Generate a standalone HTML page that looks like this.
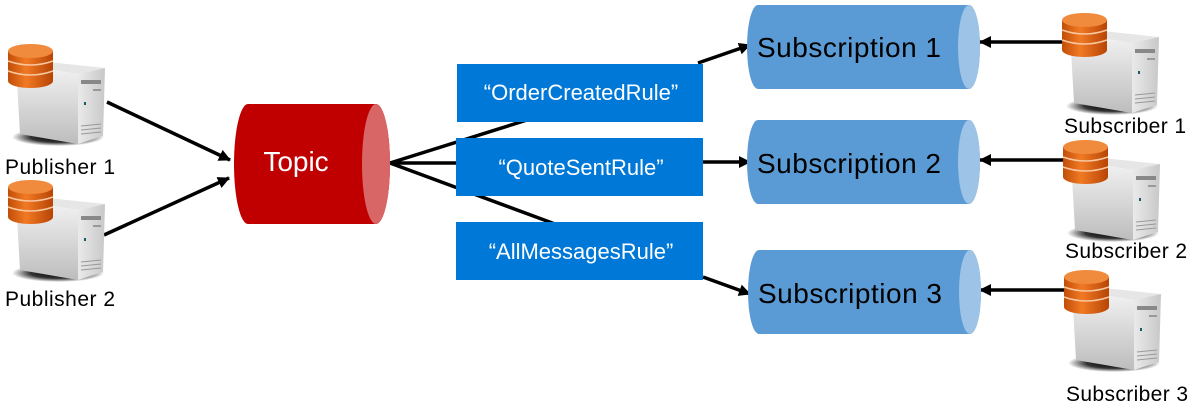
<!DOCTYPE html>
<html><head><meta charset="utf-8"><style>body{margin:0;background:#fff}svg{display:block}</style></head>
<body>
<svg width="1200" height="406" viewBox="0 0 1200 406" xmlns="http://www.w3.org/2000/svg" font-family="Liberation Sans, sans-serif">
<defs>
<linearGradient id="fr" x1="0" y1="0" x2="0" y2="1"><stop offset="0" stop-color="#f4f4f4"/><stop offset="0.5" stop-color="#d8d8d8"/><stop offset="1" stop-color="#bdbdbd"/></linearGradient>
<linearGradient id="sd" x1="0" y1="0" x2="1" y2="0"><stop offset="0" stop-color="#eaeaea"/><stop offset="1" stop-color="#c8c8c8"/></linearGradient>
<linearGradient id="db" x1="0" y1="0" x2="1" y2="0"><stop offset="0" stop-color="#c24d08"/><stop offset="0.4" stop-color="#f07a24"/><stop offset="1" stop-color="#b84405"/></linearGradient>
<radialGradient id="sh"><stop offset="0" stop-color="#000"/><stop offset="0.6" stop-color="#000" stop-opacity="0.8"/><stop offset="1" stop-color="#000" stop-opacity="0"/></radialGradient>
<marker id="ah" markerWidth="12" markerHeight="12" refX="11" refY="6" orient="auto" markerUnits="userSpaceOnUse"><path d="M0,0 L12,6 L0,12 z" fill="#000"/></marker>
<g id="srv">
<ellipse cx="50" cy="93" rx="46" ry="9" fill="url(#sh)"/>
<polygon points="8,20 70,30 70,100 12,90" fill="url(#fr)"/>
<polygon points="40,18 97,24 70,30 8,20" fill="#e6e6e6"/>
<polygon points="70,30 97,24 95,92 70,100" fill="url(#sd)"/>
<rect x="73" y="36" width="20" height="4" fill="#888"/>
<rect x="85" y="45" width="8" height="2" fill="#999"/>
<rect x="76" y="58" width="2" height="3" fill="#1a5a6a"/>
<path d="M73 82 L93 80 M73 86 L93 84 M73 90 L93 88" stroke="#999" stroke-width="1"/>
<rect x="0" y="7" width="45" height="30" fill="url(#db)"/>
<ellipse cx="22.5" cy="37" rx="22.5" ry="7" fill="url(#db)"/>
<path d="M0 17 Q22.5 25 45 17 M0 27 Q22.5 35 45 27" stroke="#f9c7a0" stroke-width="1.5" fill="none"/>
<ellipse cx="22.5" cy="7" rx="22.5" ry="7" fill="#f08a3c"/>
</g>
</defs>
<g stroke="#000" stroke-width="3.5" fill="none">
<line x1="107" y1="102" x2="230" y2="160" marker-end="url(#ah)"/>
<line x1="104" y1="235" x2="229" y2="178" marker-end="url(#ah)"/>
<line x1="390" y1="163" x2="527" y2="120"/>
<line x1="390" y1="163" x2="460" y2="163"/>
<line x1="390" y1="163" x2="555" y2="224"/>
<line x1="698" y1="63" x2="750" y2="45" marker-end="url(#ah)"/>
<line x1="703" y1="162" x2="750" y2="162" marker-end="url(#ah)"/>
<line x1="703" y1="277" x2="750" y2="294" marker-end="url(#ah)"/>
<line x1="1064" y1="42" x2="980" y2="42" marker-end="url(#ah)"/>
<line x1="1064" y1="160" x2="980" y2="160" marker-end="url(#ah)"/>
<line x1="1064" y1="290" x2="980" y2="290" marker-end="url(#ah)"/>
</g>
<path d="M248 104 L376 104 A14 60 0 0 1 376 224 L248 224 A14 60 0 0 1 248 104 z" fill="#c00000"/>
<ellipse cx="376" cy="164" rx="14" ry="60" fill="#d96666"/>
<text x="296" y="171" font-size="28" fill="#fff" text-anchor="middle">Topic</text>
<g fill="#0078d7"><rect x="457" y="64" width="246" height="58"/><rect x="456" y="138" width="247" height="58"/><rect x="456" y="222" width="247" height="58"/></g>
<g fill="#fff" font-size="22" text-anchor="middle"><text x="581" y="100">“OrderCreatedRule”</text><text x="581" y="175">“QuoteSentRule”</text><text x="581" y="259">“AllMessagesRule”</text></g>
<g>
<path d="M758 5 L969 5 A11 42 0 0 1 969 89 L758 89 A11 42 0 0 1 758 5 z" fill="#5b9bd5"/><ellipse cx="969" cy="47" rx="11" ry="42" fill="#9dc3e6"/>
<path d="M758 120 L969 120 A11 42 0 0 1 969 204 L758 204 A11 42 0 0 1 758 120 z" fill="#5b9bd5"/><ellipse cx="969" cy="162" rx="11" ry="42" fill="#9dc3e6"/>
<path d="M759 250 L970 250 A11 42 0 0 1 970 334 L759 334 A11 42 0 0 1 759 250 z" fill="#5b9bd5"/><ellipse cx="970" cy="292" rx="11" ry="42" fill="#9dc3e6"/>
</g>
<g font-size="28" fill="#000" textLength="184"><text x="757" y="57" textLength="184">Subscription 1</text><text x="757" y="173" textLength="184">Subscription 2</text><text x="758" y="303" textLength="184">Subscription 3</text></g>
<use href="#srv" x="8" y="44"/>
<use href="#srv" x="8" y="180"/>
<use href="#srv" x="1062" y="13"/>
<use href="#srv" x="1063" y="140"/>
<use href="#srv" x="1064" y="270"/>
<g font-size="21" fill="#000"><text x="5" y="174" textLength="110">Publisher 1</text><text x="5" y="306" textLength="110">Publisher 2</text><text x="1064" y="133" textLength="122">Subscriber 1</text><text x="1065" y="258" textLength="122">Subscriber 2</text><text x="1066" y="401" textLength="122">Subscriber 3</text></g>
</svg>
</body></html>
